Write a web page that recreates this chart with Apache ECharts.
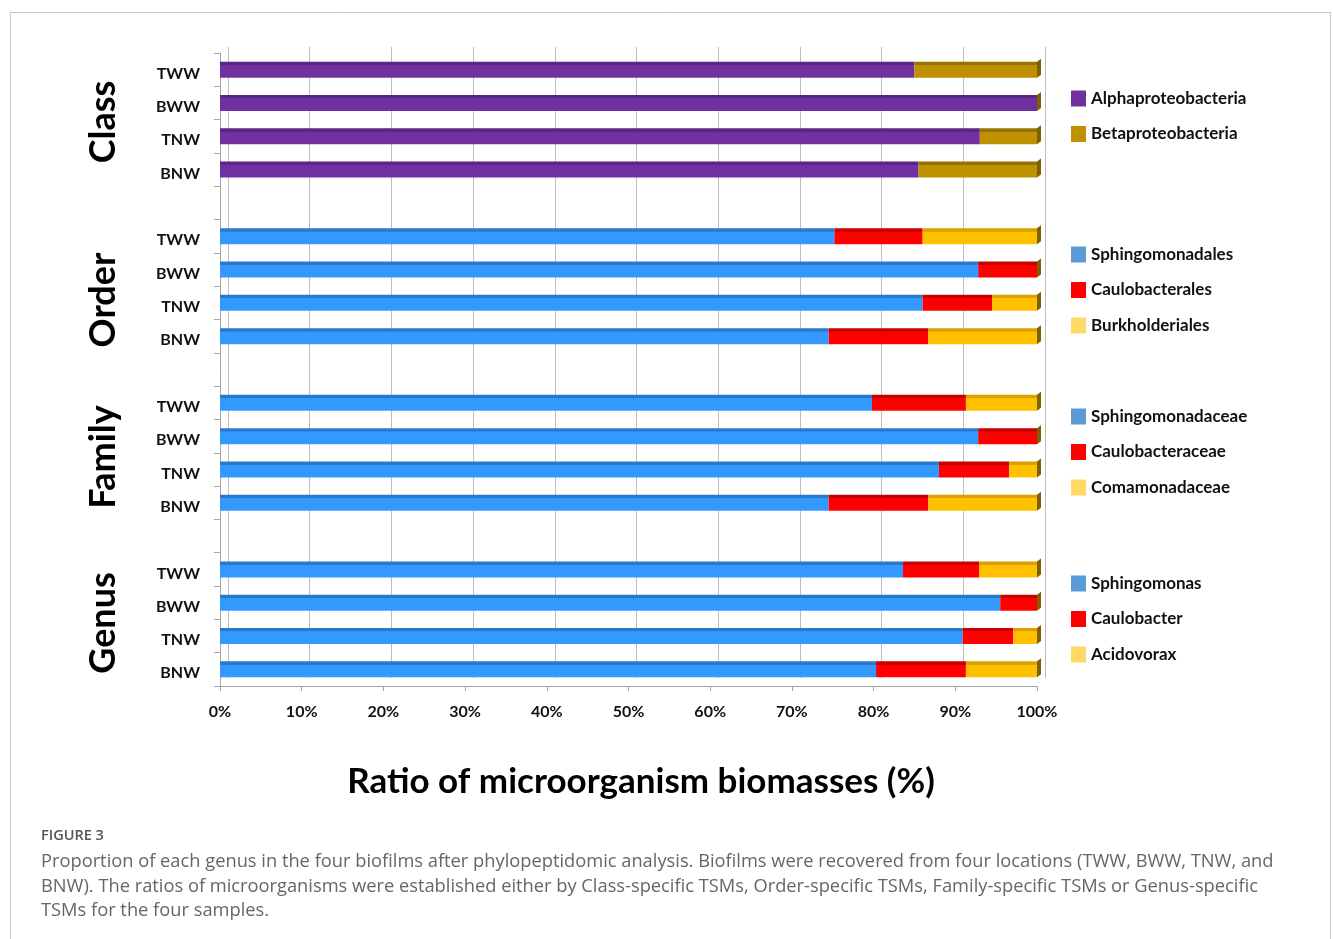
<!DOCTYPE html>
<html>
<head>
<meta charset="utf-8">
<script src="https://cdn.jsdelivr.net/npm/echarts@6/dist/echarts.min.js"></script>
<style>
html,body{margin:0;padding:0;background:#fff;}
#chart{width:1333px;height:939px;}
</style>
</head>
<body>
<div id="chart"></div>
<script>
// ---- data ----
const samples = ['TWW', 'BWW', 'TNW', 'BNW'];
const levels = ['Class', 'Order', 'Family', 'Genus'];
const xTicks = [0, 10, 20, 30, 40, 50, 60, 70, 80, 90, 100];

const classNames = ['Alphaproteobacteria', 'Betaproteobacteria'];
const classAlpha = [85.0, 100.0, 93.0, 85.5];
const classBeta = [15.0, 0, 7.0, 14.5];

const orderNames = ['Sphingomonadales', 'Caulobacterales', 'Burkholderiales'];
const orderSphingo = [75.2, 92.8, 86.0, 74.5];
const orderCaulo = [10.8, 7.2, 8.5, 12.2];
const orderBurk = [14.0, 0, 5.5, 13.3];

const familyNames = ['Sphingomonadaceae', 'Caulobacteraceae', 'Comamonadaceae'];
const familySphingo = [79.8, 92.8, 88.0, 74.5];
const familyCaulo = [11.5, 7.2, 8.6, 12.2];
const familyComa = [8.7, 0, 3.4, 13.3];

const genusNames = ['Sphingomonas', 'Caulobacter', 'Acidovorax'];
const genusSphingo = [83.6, 95.5, 90.9, 80.3];
const genusCaulo = [9.3, 4.5, 6.2, 11.0];
const genusAcido = [7.1, 0, 2.9, 8.7];

const captionLines = [
  'Proportion of each genus in the four biofilms after phylopeptidomic analysis. Biofilms were recovered from four locations (TWW, BWW, TNW, and',
  'BNW). The ratios of microorganisms were established either by Class-specific TSMs, Order-specific TSMs, Family-specific TSMs or Genus-specific',
  'TSMs for the four samples.'
];

// ---- build rows (4 groups of 4 samples, one blank slot between groups) ----
const rows = [];
levels.forEach((lv, gi) => {
  samples.forEach(s => rows.push(s));
  if (gi < levels.length - 1) rows.push('');
});
function place(gi, vals) {
  const arr = rows.map(() => '-');
  vals.forEach((v, i) => { arr[gi * 5 + i] = v > 0 ? v : '-'; });
  return arr;
}
function grad(top, main) {
  return {type: 'linear', x: 0, y: 0, x2: 0, y2: 1,
    colorStops: [{offset: 0, color: top}, {offset: 0.2, color: top}, {offset: 0.22, color: main}, {offset: 1, color: main}]};
}
const C = {
  purple: ['#5B2683', '#7030A0'],
  gold: ['#987200', '#BF9000'],
  blue: ['#2A78CC', '#3399FF'],
  red: ['#C80000', '#FF0000'],
  yellow: ['#D9A000', '#FFC000']
};
const defs = [
  {name: classNames[0], gi: 0, vals: classAlpha, c: C.purple, leg: '#7030A0'},
  {name: classNames[1], gi: 0, vals: classBeta, c: C.gold, leg: '#BF9000'},
  {name: orderNames[0], gi: 1, vals: orderSphingo, c: C.blue, leg: '#5B9BD5'},
  {name: orderNames[1], gi: 1, vals: orderCaulo, c: C.red, leg: '#FF0000'},
  {name: orderNames[2], gi: 1, vals: orderBurk, c: C.yellow, leg: '#FFD966'},
  {name: familyNames[0], gi: 2, vals: familySphingo, c: C.blue, leg: '#5B9BD5'},
  {name: familyNames[1], gi: 2, vals: familyCaulo, c: C.red, leg: '#FF0000'},
  {name: familyNames[2], gi: 2, vals: familyComa, c: C.yellow, leg: '#FFD966'},
  {name: genusNames[0], gi: 3, vals: genusSphingo, c: C.blue, leg: '#5B9BD5'},
  {name: genusNames[1], gi: 3, vals: genusCaulo, c: C.red, leg: '#FF0000'},
  {name: genusNames[2], gi: 3, vals: genusAcido, c: C.yellow, leg: '#FFD966'}
];
const series = defs.map(d => ({
  name: d.name, type: 'bar', stack: 'total', xAxisIndex: 0, yAxisIndex: 0,
  barWidth: 16, itemStyle: {color: grad(d.c[0], d.c[1])},
  color: d.leg, silent: true,
  data: place(d.gi, d.vals)
}));
// right-end caps (3D side face) at each bar's stacked total
const capData = [];
rows.forEach((r, ri) => {
  if (!r) return;
  let tot = 0;
  defs.forEach(d => { const v = place(d.gi, d.vals)[ri]; if (v !== '-') tot += v; });
  capData.push([tot, ri]);
});
series.push({
  type: 'custom', xAxisIndex: 0, yAxisIndex: 0, silent: true, z: 3,
  data: capData,
  renderItem: function (params, api) {
    const p = api.coord([api.value(0), api.value(1)]);
    return {type: 'polygon', shape: {points: [[p[0], p[1] - 8], [p[0] + 4, p[1] - 11], [p[0] + 4, p[1] + 5], [p[0], p[1] + 8]]},
      style: {fill: '#7F6000'}};
  }
});

const legendBase = {orient: 'vertical', left: 1066, itemWidth: 15, itemHeight: 16, itemGap: 18.5,
  icon: 'rect', selectedMode: false,
  textStyle: {fontFamily: 'Lato', fontWeight: 'bold', fontSize: 17, color: '#111'}};
function legendFor(gi, top) {
  return Object.assign({}, legendBase, {top: top,
    data: defs.filter(d => d.gi === gi).map(d => ({name: d.name, itemStyle: {color: d.leg}}))});
}

const graphics = [
  {type: 'rect', shape: {x: 10.5, y: 12.5, width: 1320, height: 1000}, style: {fill: 'none', stroke: '#C8C8C8', lineWidth: 1}, z: -10},
  {type: 'text', x: 641, y: 782, style: {text: 'Ratio of microorganism biomasses (%)', font: 'bold 35px Lato', fill: '#000', align: 'center', verticalAlign: 'middle'}},
  {type: 'text', x: 41, y: 836, style: {text: 'FIGURE 3', font: '600 14.5px "Open Sans"', fill: '#555', align: 'left', verticalAlign: 'middle'}}
];
const titleY = [122, 300, 457, 623];
levels.forEach((lv, i) => {
  graphics.push({type: 'text', x: 103, y: titleY[i], rotation: Math.PI / 2,
    style: {text: lv, font: 'bold 36px Lato', fill: '#000', align: 'center', verticalAlign: 'middle'}});
});
captionLines.forEach((t, i) => {
  graphics.push({type: 'text', x: 41, y: 862 + i * 24.5,
    style: {text: t, font: '18.3px "Open Sans"', fill: '#666', align: 'left', verticalAlign: 'middle'}});
});

const chart = echarts.init(document.getElementById('chart'), null, {renderer: 'canvas'});
chart.setOption({
  animation: false,
  backgroundColor: '#fff',
  grid: [
    {left: 220, right: 296, top: 53, bottom: 253},
    {left: 228, right: 288, top: 47, bottom: 261}
  ],
  xAxis: [
    {type: 'value', gridIndex: 0, min: 0, max: 100, interval: 10,
      axisLine: {show: true, lineStyle: {color: '#A6A6A6'}},
      axisTick: {show: true, length: 5, lineStyle: {color: '#A6A6A6'}},
      splitLine: {show: false},
      axisLabel: {formatter: '{value}%', margin: 18, fontFamily: 'Lato', fontWeight: 'bold', fontSize: 16, color: '#111'}},
    {type: 'value', gridIndex: 1, min: 0, max: 100, interval: 10,
      axisLine: {show: false}, axisTick: {show: false}, axisLabel: {show: false},
      splitLine: {show: true, lineStyle: {color: '#BDBDBD', width: 1}}}
  ],
  yAxis: [
    {type: 'category', gridIndex: 0, inverse: true, data: rows,
      axisLine: {show: true, lineStyle: {color: '#A6A6A6'}},
      axisTick: {show: true, length: 6, lineStyle: {color: '#A6A6A6'}},
      axisLabel: {margin: 20, formatter: v => v ? '{a|' + v + '}' : '',
        rich: {a: {padding: [8, 0, 0, 0], fontFamily: 'Lato', fontWeight: 'bold', fontSize: 16, color: '#111'}}}},
    {type: 'value', gridIndex: 1, show: false}
  ],
  legend: [legendFor(0, 85), legendFor(1, 241), legendFor(2, 403), legendFor(3, 570)],
  graphic: graphics,
  series: series
});
</script>
</body>
</html>
